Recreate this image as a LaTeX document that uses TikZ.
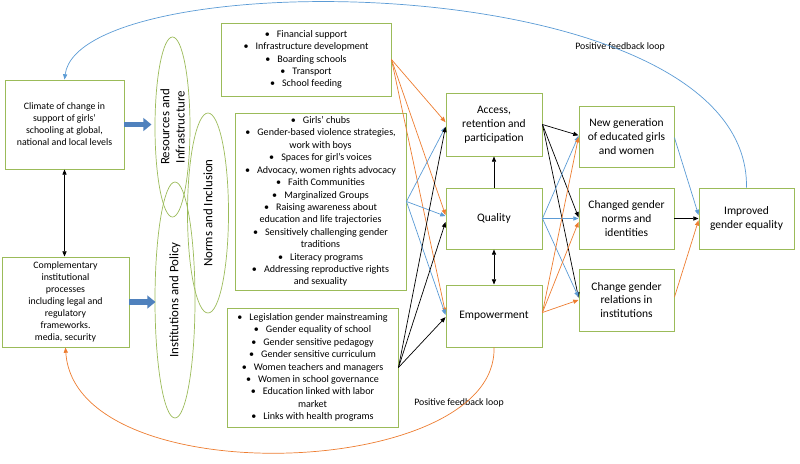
\documentclass[tikz,border=0pt]{standalone}
\usepackage{fontspec}
\setmainfont{Carlito}
\usetikzlibrary{shapes.geometric,arrows.meta,calc}
\definecolor{gboxc}{HTML}{9BBB59}
\definecolor{oarr}{HTML}{ED7D31}
\definecolor{barr}{HTML}{5B9BD5}
\definecolor{bblock}{HTML}{4F81BD}
\newcommand{\bl}{\textbullet\hspace{0.7em}}
\begin{document}
\begin{tikzpicture}[x=0.03cm,y=-0.03cm,
  bx/.style 2 args={draw=gboxc,line width=0.8pt,inner sep=0pt,align=center,
    minimum width=#1*0.03cm,minimum height=#2*0.03cm},
  ell/.style 2 args={draw=gboxc,line width=0.6pt,ellipse,inner sep=0pt,
    minimum width=#1*0.03cm,minimum height=#2*0.03cm},
  fbul/.style={font=\fontsize{8.6}{10.6}\selectfont},
  fsml/.style={font=\fontsize{8.4}{10.2}\selectfont},
  fmid/.style={font=\fontsize{9.8}{11.9}\selectfont},
  fell/.style={font=\fontsize{11}{13}\selectfont},
  lbl/.style={font=\fontsize{8.4}{10}\selectfont,inner sep=0pt},
  arr/.style={-{Triangle[length=4.5pt,width=3.6pt]},line width=0.6pt},
  dbl/.style={{Triangle[length=4.5pt,width=3.6pt]}-{Triangle[length=4.5pt,width=3.6pt]},line width=0.6pt},
  blockarr/.style={draw=bblock,line width=5pt,-{Triangle[length=7pt,width=11pt]}}
]
\useasboundingbox (0,0) rectangle (800,463);

% left boxes
\node[bx={119}{89},fsml] (clim) at (64.5,124.5) {Climate of change in\\support of girls’\\schooling at global,\\national and local levels};
\node[bx={127}{90},fsml] (comp) at (65.5,302) {Complementary\\institutional\\processes\\including legal and\\regulatory\\frameworks.\\media, security};

% ellipses
\node[ell={180}{35},rotate=90] (res) at (172.5,127) {};
\node[fell,rotate=90,align=center,inner sep=0pt] (restxt) at (res.center) {Resources and\\Infrastructure};
\node[ell={200}{41},rotate=90] (norm) at (208,213) {};
\node[fell,rotate=90,inner sep=0pt] (normtxt) at (norm.center) {Norms and Inclusion};
\node[ell={236}{40},rotate=90] (inst) at (175,300) {};
\node[fell,rotate=90,inner sep=0pt] (insttxt) at (inst.center) {Institutions and Policy};

% bullet boxes
\node[bx={170}{73},fbul] (b1) at (306,59.5) {\bl Financial support\\\bl Infrastructure development\\\bl Boarding schools\\\bl Transport\\\bl School feeding};
\node[bx={171}{177},fbul] (b2) at (320.5,201.5) {\bl Girls' chubs\\\bl Gender-based violence strategies,\\work with boys\\\bl Spaces for girl's voices\\\bl Advocacy, women rights advocacy\\\bl Faith Communities\\\bl Marginalized Groups\\\bl Raising awareness about\\education and life trajectories\\\bl Sensitively challenging gender\\traditions\\\bl Literacy programs\\\bl Addressing reproductive rights\\and sexuality};
\node[bx={171}{119},fbul] (b3) at (312.5,367.5) {\bl Legislation gender mainstreaming\\\bl Gender equality of school\\\bl Gender sensitive pedagogy\\\bl Gender sensitive curriculum\\\bl Women teachers and managers\\\bl Women in school governance\\\bl Education linked with labor\\market\\\bl Links with health programs};

% middle column
\node[bx={96}{63},fmid] (acc) at (494,124.5) {Access,\\retention and\\participation};
\node[bx={96}{61},fmid] (qual) at (494,218.5) {Quality};
\node[bx={96}{62},fmid] (emp) at (494,316) {Empowerment};

% right column
\node[bx={95}{61},fmid] (newg) at (626.5,136.5) {New generation\\of educated girls\\and women};
\node[bx={95}{61},fmid] (chn) at (626.5,218.5) {Changed gender\\norms and\\identities};
\node[bx={95}{62},fmid] (rel) at (626.5,300) {Change gender\\relations in\\institutions};
\node[bx={95}{61},fmid] (imp) at (746.5,218.5) {Improved\\gender equality};

% labels
\node[lbl] (fb1) at (620,47) {Positive feedback loop};
\node[lbl] (fb2) at (459,403) {Positive feedback loop};

% block arrows
\draw[blockarr] (clim.east) -- ++(27,0);
\draw[blockarr] (comp.east) -- ++(26,0);

% left double arrow
\draw[dbl] (clim.south) -- (clim.south |- comp.north);

% bullet boxes -> middle
\draw[arr,oarr] (b1.east) -- ([yshift=2pt]acc.west);
\draw[arr,oarr] (b1.east) -- ([yshift=3pt]qual.west);
\draw[arr,oarr] (b1.east) -- ([yshift=2.5pt]emp.west);
\draw[arr,barr] (b2.east) -- ([yshift=-2pt]acc.west);
\draw[arr,barr] (b2.east) -- ([yshift=2pt]qual.west);
\draw[arr,barr] (b2.east) -- ([yshift=1pt]emp.west);
\draw[arr] (b3.east) -- ([yshift=-2pt]acc.west);
\draw[arr] (b3.east) -- ([yshift=-3pt]qual.west);
\draw[arr] (b3.east) -- ([yshift=-1pt]emp.west);

% middle vertical
\draw[arr] (qual.north) -- (acc.south);
\draw[dbl] (qual.south) -- (emp.north);

% middle -> right
\draw[arr] (acc.east) -- ([yshift=1pt]newg.west);
\draw[arr] (acc.east) -- ([yshift=1pt]chn.west);
\draw[arr] (acc.east) -- ([yshift=2pt]rel.west);
\draw[arr,barr] (qual.east) -- ([yshift=0.5pt]newg.west);
\draw[arr,barr] (qual.east) -- (chn.west);
\draw[arr,barr] (qual.east) -- ([yshift=2.5pt]rel.west);
\draw[arr,oarr] ([yshift=3pt]emp.east) -- ([yshift=-0.5pt]newg.west);
\draw[arr,oarr] ([yshift=3pt]emp.east) -- ([yshift=-3pt]chn.west);
\draw[arr,oarr] ([yshift=3pt]emp.east) -- (rel.west);

% right -> improved
\draw[arr,barr] ([yshift=-1pt]newg.east) -- ([yshift=3pt]imp.west);
\draw[arr] (chn.east) -- (imp.west);
\draw[arr,oarr] ([yshift=2.5pt]rel.east) -- ([yshift=-1.5pt]imp.west);

% feedback loops
\draw[arr,barr] (imp.north) .. controls (750,-35) and (80,-38) .. (clim.north);
\draw[arr,oarr] (emp.south) .. controls (498,480) and (75,495) .. (comp.south);
\end{tikzpicture}
\end{document}
